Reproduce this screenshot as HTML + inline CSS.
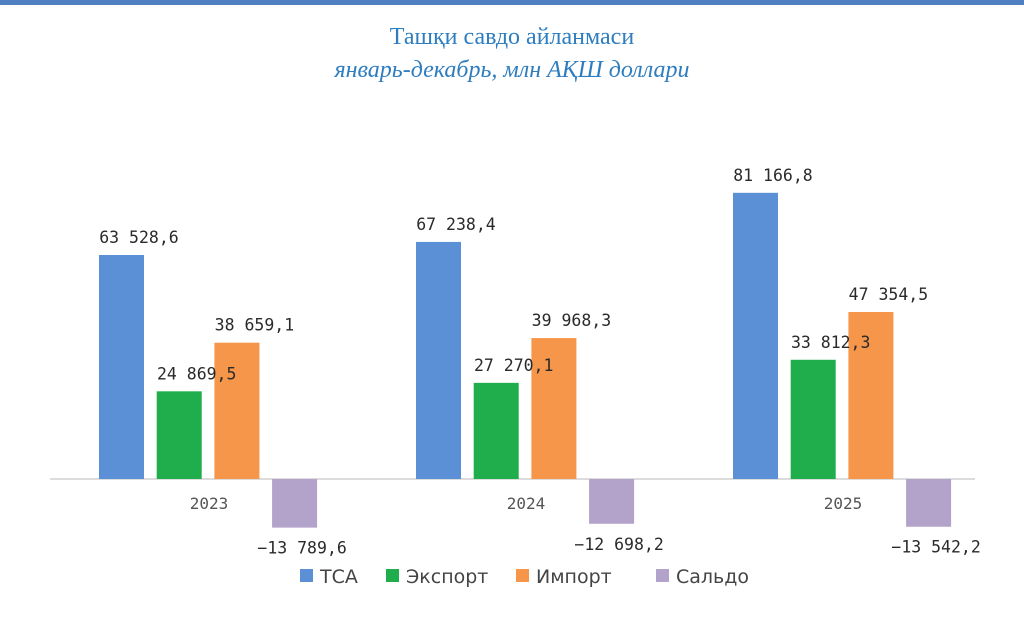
<!DOCTYPE html>
<html><head><meta charset="utf-8"><style>
body{margin:0;width:1024px;height:622px;background:#fff;overflow:hidden;font-family:"DejaVu Sans Mono","Liberation Mono",monospace}
#bar-top{position:absolute;left:0;top:0;width:1024px;height:5px;background:#4f7fc0}
.t{position:absolute;width:1024px;text-align:center;font-family:"Liberation Serif",serif;color:#2e7dbf}
</style></head><body>
<div id="bar-top"></div>
<div class="t" style="top:24px;font-size:24px">Ташқи савдо айланмаси</div>
<div class="t" style="top:57px;font-size:24px;font-style:italic">январь-декабрь, млн АҚШ доллари</div>
<svg id="c" width="1024" height="622" style="position:absolute;left:0;top:0"></svg>
<script>
const years=['2023','2024','2025'];
const seriesNames=['ТСА','Экспорт','Импорт','Сальдо'];
const tca=[63528.6,67238.4,81166.8];
const exportV=[24869.5,27270.1,33812.3];
const importV=[38659.1,39968.3,47354.5];
const saldo=[-13789.6,-12698.2,-13542.2];
const colors=['#5b8fd6','#1fae4b','#f5964a','#b3a2c9'];
const series=[tca,exportV,importV,saldo];
const base=479,k=0.003526;
const y=v=>base-v*k;
const gx=i=>99+i*317;
const bx=(i,s)=>gx(i)+s*57.7;
const fmt=v=>{const neg=v<0;let s=Math.abs(v).toFixed(1).replace('.',',');let [a,b]=s.split(',');a=a.replace(/\B(?=(\d{3})+(?!\d))/g,' ');return (neg?'−':'')+a+','+b;};
const svg=document.getElementById('c');const NS='http://www.w3.org/2000/svg';
function mk(t,a){const e=document.createElementNS(NS,t);for(const q in a)e.setAttribute(q,a[q]);svg.appendChild(e);return e;}
const ax=mk('line',{x1:50,x2:975,y1:base,y2:base,stroke:'#d0d0d0','stroke-width':1.5});


series.forEach((arr,s)=>arr.forEach((v,i)=>{
 const x=bx(i,s),w=45,top=Math.min(y(v),base),h=Math.abs(y(v)-base);
 const r=mk('rect',{x:x,y:top,width:w,height:h,fill:colors[s]});
 
 
}));
series.forEach((arr,s)=>arr.forEach((v,i)=>{
 const x=bx(i,s);
 const ly=v>=0?y(v)-12:y(v)+26;
 const t=mk('text',{x:x+22+(v>=0?18:8),y:ly,'text-anchor':'middle','font-size':16.5,fill:'#2a2a2a'});
 t.textContent=fmt(v);
 
 
}));
years.forEach((yr,i)=>{
 const t=mk('text',{x:gx(i)+110,y:509,'text-anchor':'middle','font-size':16,fill:'#555'});
 t.textContent=yr;
 
 
});
const lx=[300,386,516,656];
seriesNames.forEach((n,s)=>{
 const r=mk('rect',{x:lx[s],y:569,width:13,height:13,fill:colors[s]});
 
 
 const t=mk('text',{x:lx[s]+20,y:583,'font-size':19,fill:'#444','font-family':'DejaVu Sans,sans-serif'});
 t.textContent=n;
 
 
});
</script>
</body></html>
